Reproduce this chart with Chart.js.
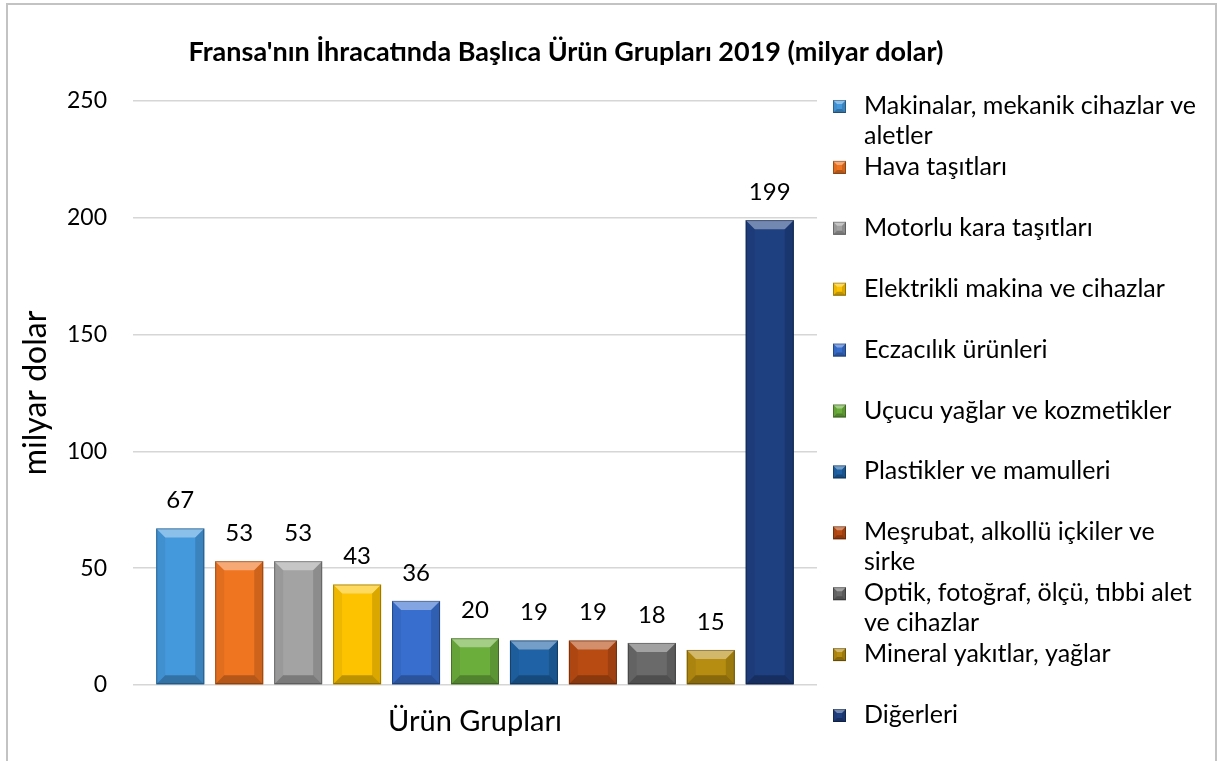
<!DOCTYPE html>
<html>
<head>
<meta charset="utf-8">
<script src="https://cdn.jsdelivr.net/npm/chart.js@4.4.1/dist/chart.umd.min.js"></script>
<style>
    html, body { margin: 0; padding: 0; background: #fff; }
    #wrap { position: relative; width: 1217px; height: 761px; overflow: hidden; }
    #frame { position: absolute; left: 6px; top: 3px; width: 1207px; height: 800px; border: 2px solid #c3c3c3; }
    #chart { position: absolute; left: 0; top: 0; }
</style>
</head>
<body>
<div id="wrap">
    <div id="frame"></div>
    <canvas id="chart" width="1217" height="761"></canvas>
</div>
<script>
// Chart data
const chartTitle = "Fransa'nın İhracatında Başlıca Ürün Grupları 2019 (milyar dolar)";
const categories = ['Ürün Grupları'];
const groupLabels = [
    'Makinalar, mekanik cihazlar ve aletler',
    'Hava taşıtları',
    'Motorlu kara taşıtları',
    'Elektrikli makina ve cihazlar',
    'Eczacılık ürünleri',
    'Uçucu yağlar ve kozmetikler',
    'Plastikler ve mamulleri',
    'Meşrubat, alkollü içkiler ve sirke',
    'Optik, fotoğraf, ölçü, tıbbi alet ve cihazlar',
    'Mineral yakıtlar, yağlar',
    'Diğerleri'
];
const groupValues = [67, 53, 53, 43, 36, 20, 19, 19, 18, 15, 199];
const groupColors = [
    '#4499dd', '#f07521', '#a3a3a3', '#fdc300', '#386fcf', '#6cae3c',
    '#1f63a6', '#b84b12', '#6a6a6a', '#b68d10', '#1e3f80'
];
const yTicks = [0, 50, 100, 150, 200, 250];

const FONT = 'Lato, "Noto Sans", sans-serif';

// Excel-like bevel on a rectangle
function bevelRect(ctx, l, t, r, b, color, size) {
    const h = b - t, w = r - l;
    const s = Math.max(1, Math.min(size, h / 2, w / 2));
    ctx.fillStyle = color;
    ctx.fillRect(l, t, w, h);
    const poly = (pts, fill) => {
        ctx.beginPath();
        ctx.moveTo(pts[0][0], pts[0][1]);
        pts.slice(1).forEach(p => ctx.lineTo(p[0], p[1]));
        ctx.closePath();
        ctx.fillStyle = fill;
        ctx.fill();
    };
    poly([[l, t], [r, t], [r - s, t + s], [l + s, t + s]], 'rgba(255,255,255,0.38)');
    poly([[l, t], [l + s, t + s], [l + s, b - s], [l, b]], 'rgba(0,0,0,0.06)');
    poly([[r, t], [r, b], [r - s, b - s], [r - s, t + s]], 'rgba(0,0,0,0.14)');
    poly([[l, b], [l + s, b - s], [r - s, b - s], [r, b]], 'rgba(0,0,0,0.25)');
    ctx.strokeStyle = 'rgba(0,0,0,0.3)';
    ctx.lineWidth = 1;
    ctx.strokeRect(l + 0.5, t + 0.5, w - 1, h - 1);
}

function wrapText(ctx, text, maxWidth) {
    const words = text.split(' ');
    const lines = [];
    let line = '';
    words.forEach(w => {
        const test = line ? line + ' ' + w : w;
        if (ctx.measureText(test).width > maxWidth && line) {
            lines.push(line);
            line = w;
        } else {
            line = test;
        }
    });
    if (line) lines.push(line);
    return lines;
}

const excelDecor = {
    id: 'excelDecor',
    afterDatasetsDraw(chart) {
        const ctx = chart.ctx;
        ctx.save();
        chart.data.datasets.forEach((ds, i) => {
            const meta = chart.getDatasetMeta(i);
            meta.data.forEach((bar, j) => {
                const l = bar.x - bar.width / 2, r = bar.x + bar.width / 2;
                bevelRect(ctx, l, bar.y, r, bar.base, ds.backgroundColor, 9);
                // value label
                ctx.fillStyle = '#000';
                ctx.font = '24px ' + FONT;
                ctx.textAlign = 'center';
                ctx.textBaseline = 'middle';
                ctx.fillText(ds.data[j], bar.x, bar.y - 28);
            });
        });
        ctx.restore();
    },
    afterDraw(chart) {
        const ctx = chart.ctx;
        ctx.save();
        // title
        ctx.fillStyle = '#000';
        ctx.font = 'bold 27px ' + FONT;
        ctx.textAlign = 'center';
        ctx.textBaseline = 'middle';
        ctx.fillText(chartTitle, 566, 52);

        // legend on the right
        ctx.font = '25px ' + FONT;
        ctx.textAlign = 'left';
        chart.data.datasets.forEach((ds, i) => {
            const y = 106 + i * 60.9;
            bevelRect(ctx, 833, y - 6, 846, y + 7, ds.backgroundColor, 4);
            const lines = wrapText(ctx, ds.label, 348);
            ctx.fillStyle = '#000';
            lines.forEach((ln, k) => ctx.fillText(ln, 864, y + k * 30));
        });
        ctx.restore();
    }
};

new Chart(document.getElementById('chart'), {
    type: 'bar',
    data: {
        labels: categories,
        datasets: groupLabels.map((label, i) => ({
            label: label,
            data: [groupValues[i]],
            backgroundColor: groupColors[i],
            borderWidth: 0
        }))
    },
    options: {
        responsive: false,
        animation: false,
        events: [],
        categoryPercentage: 0.948,
        barPercentage: 0.814,
        layout: { padding: { top: 101, right: 400, left: 0, bottom: 0 } },
        scales: {
            x: {
                grid: { display: false },
                border: { display: false },
                ticks: { color: '#000', font: { family: FONT, size: 29 }, padding: 11 },
                afterFit(scale) { scale.height = 76; }
            },
            y: {
                min: 0,
                max: 250,
                afterBuildTicks(scale) { scale.ticks = yTicks.map(v => ({ value: v })); },
                grid: { color: '#d6d6d6', lineWidth: 1.5, drawTicks: false },
                border: { display: false },
                ticks: { color: '#000', font: { family: FONT, size: 23 }, padding: 26 },
                title: {
                    display: true,
                    text: 'milyar dolar',
                    color: '#000',
                    font: { family: FONT, size: 32 },
                    padding: { top: 16, bottom: 0 }
                },
                afterFit(scale) { scale.width = 133; }
            }
        },
        plugins: {
            legend: { display: false },
            title: { display: false },
            tooltip: { enabled: false }
        }
    },
    plugins: [excelDecor]
});
</script>
</body>
</html>
